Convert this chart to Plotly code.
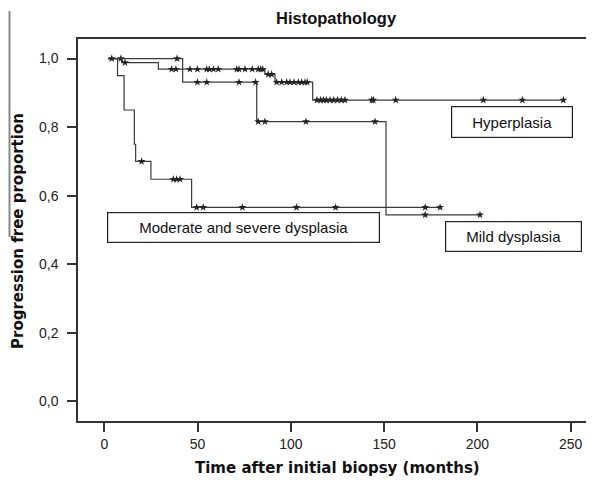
import plotly.graph_objects as go

# ---- data ----
hyper_t = [2, 9.3, 29, 86.1, 91.5, 111.7]
hyper_s = [1.0, 0.988, 0.969, 0.954, 0.931, 0.879]
hyper_end = 246.1
hyper_cens = [8.9, 11.1, 36.1, 38.4, 45.9, 49.9, 54.9, 56.3, 58.5, 61.1, 71, 72.2,
              75.4, 79.3, 82.5, 83.8, 84.9, 87.9, 89.7, 92.4, 95.1, 97.8, 99.5,
              101.7, 104, 105.8, 107.6, 108.8, 114, 116, 117.5, 119, 121, 123,
              125, 127, 129, 143.4, 144.2, 156.2, 203.2, 224.1, 246.1]

mild_t = [2, 42, 81.7, 151]
mild_s = [1.0, 0.931, 0.816, 0.544]
mild_end = 201.4
mild_cens = [39, 49.9, 54.9, 72.2, 81.1, 82.5, 86.1, 108.1, 145.1, 172, 201.4]

mod_t = [2, 7.1, 10.6, 16.1, 16.8, 25, 46.8]
mod_s = [1.0, 0.95, 0.85, 0.75, 0.70, 0.648, 0.566]
mod_end = 180
mod_cens = [4, 20, 37, 38.8, 40.6, 49.5, 53, 74, 103, 124, 172, 180]

x_ticks = [0, 50, 100, 150, 200, 250]
y_ticks = [0.0, 0.2, 0.4, 0.6, 0.8, 1.0]

labels = ["Hyperplasia", "Mild dysplasia", "Moderate and severe dysplasia"]
title = "Histopathology"
x_title = "Time after initial biopsy (months)"
y_title = "Progression free proportion"

LINE = "#333333"
OFF = 8                      # browser body margin offsets the figure
W, H = 594 - OFF, 483 - OFF
ML, MT = 78 - OFF, 39 - OFF
MR = 0
MB = H - (421 - OFF)
PW = W - ML - MR
PH = H - MT - MB


def level_at(ts, ss, t):
    v = ss[0]
    for ti, si in zip(ts, ss):
        if ti <= t:
            v = si
    return v


def px(x):  # page pixel -> paper
    return (x - OFF - ML) / PW


def py(y):
    return (H - MB - (y - OFF)) / PH


fig = go.Figure()
groups = [(hyper_t, hyper_s, hyper_end, hyper_cens),
          (mild_t, mild_s, mild_end, mild_cens),
          (mod_t, mod_s, mod_end, mod_cens)]
for (ts, ss, end, cens), name in zip(groups, labels):
    fig.add_trace(go.Scatter(
        x=ts + [end], y=ss + [ss[-1]], mode="lines", line_shape="hv",
        line=dict(color="#3a3a3a", width=1.2), name=name, showlegend=False,
        hoverinfo="skip"))
    fig.add_trace(go.Scatter(
        x=cens, y=[level_at(ts, ss, c) for c in cens], mode="markers",
        marker=dict(symbol="star", size=6, color="#222222",
                    line=dict(width=0)),
        showlegend=False, hoverinfo="skip"))

box_font = dict(family="Liberation Sans, Arial", size=15, color="#111111")
# label boxes (center in data coords, size in px)
boxes = [
    (labels[0], 218.5, 0.815, 120, 30),
    (labels[1], 219.1, 0.480, 135, 29),
    (labels[2], 74.5, 0.507, 271, 29),
]
for txt, bx, by, bw, bh in boxes:
    fig.add_annotation(x=bx, y=by, xref="x", yref="y", text=txt,
                       showarrow=False, font=box_font, width=bw, height=bh,
                       bordercolor="#222222", borderwidth=1.2, borderpad=0,
                       bgcolor="white", align="center", valign="middle")

fig.add_annotation(x=px(336), y=py(18), xref="paper", yref="paper",
                   text="<b>" + title + "</b>", showarrow=False,
                   font=dict(family="Liberation Sans, Arial", size=16.5,
                             color="#111111"), xanchor="center", yanchor="middle")

axis_font = dict(family="DejaVu Sans", size=15, color="#111111")
fig.add_annotation(x=px(337), y=py(468), xref="paper", yref="paper",
                   text="<b>" + x_title + "</b>", showarrow=False,
                   font=axis_font, xanchor="center", yanchor="middle")
fig.add_annotation(x=px(18), y=py(231), xref="paper", yref="paper",
                   text="<b>" + y_title + "</b>", showarrow=False, textangle=-90,
                   font=axis_font, xanchor="center", yanchor="middle")

# stray vertical gray line at top-left of the image
fig.add_shape(type="line", xref="paper", yref="paper",
              x0=px(9.5), x1=px(9.5), y0=py(11), y1=py(237),
              line=dict(color="#888888", width=2))

tick_font = dict(family="Liberation Sans, Arial", size=14, color="#222222")

fig.update_layout(
    width=W, height=H,
    margin=dict(l=ML, r=MR, t=MT, b=MB, autoexpand=False),
    paper_bgcolor="white", plot_bgcolor="white",
    separators=",.",
    xaxis=dict(range=[-14.1, 262.5], tickvals=x_ticks, ticks="outside",
               ticklen=9, tickwidth=1.5, tickcolor=LINE, showgrid=False,
               zeroline=False, showline=True, linecolor=LINE, linewidth=1.5,
               mirror=True, tickfont=tick_font, automargin=False),
    yaxis=dict(range=[-0.057, 1.057], tickvals=y_ticks, tickformat=".1f",
               ticks="outside", ticklen=9, tickwidth=1.5, tickcolor=LINE,
               showgrid=False, zeroline=False, showline=True, linecolor=LINE,
               linewidth=1.5, tickfont=tick_font, automargin=False,
               ticklabelstandoff=6),
)

fig.write_html("out.html")
